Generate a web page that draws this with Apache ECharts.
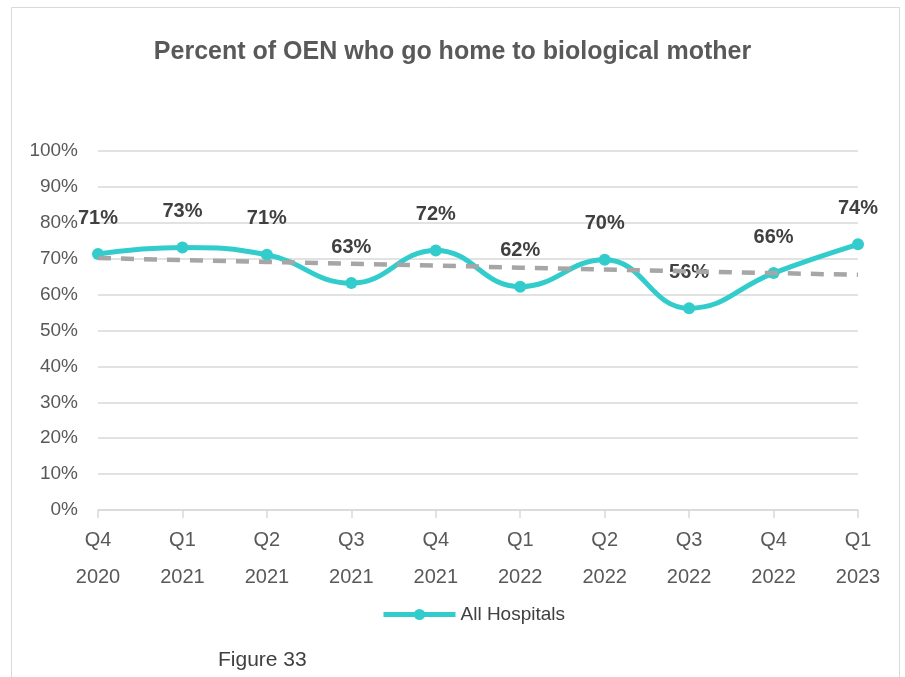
<!DOCTYPE html>
<html>
<head>
<meta charset="utf-8">
<script src="https://cdn.jsdelivr.net/npm/echarts@6/dist/echarts.min.js"></script>
<style>
html, body { margin: 0; padding: 0; background: #fff; }
#main { width: 905px; height: 677px; }
</style>
</head>
<body>
<div id="main"></div>
<script>
// quarters on the x axis
var quarters = ['Q4\n2020', 'Q1\n2021', 'Q2\n2021', 'Q3\n2021', 'Q4\n2021',
    'Q1\n2022', 'Q2\n2022', 'Q3\n2022', 'Q4\n2022', 'Q1\n2023'];
// percent going home to biological mother
var allHospitals = [71.3, 73.1, 71.1, 63.2, 72.3, 62.2, 69.7, 56.2, 66.0, 74.0];
// dashed trend line
var trend = [70.2, 69.6, 69.1, 68.6, 68.1, 67.5, 67.0, 66.5, 66.0, 65.5];

var font = "'Liberation Sans', sans-serif";

var myChart = echarts.init(document.getElementById('main'));

var option = {
    animation: false,
    backgroundColor: '#fff',
    title: {
        text: 'Percent of OEN who go home to biological mother',
        left: 'center',
        top: 35,
        textStyle: { fontFamily: font, fontSize: 25, fontWeight: 'bold', color: '#595959' }
    },
    graphic: [
        {
            type: 'rect',
            shape: { x: 11.5, y: 7.5, width: 888, height: 680 },
            style: { fill: 'none', stroke: '#d9d9d9', lineWidth: 1 }
        },
        {
            type: 'text',
            left: 218,
            top: 650,
            style: { text: 'Figure 33', font: '21px ' + font, fill: '#404040' }
        }
    ],
    legend: {
        bottom: 48,
        left: 376,
        itemWidth: 72,
        itemHeight: 14,
        itemGap: 5,
        data: ['All Hospitals'],
        itemStyle: { color: '#33cccc' },
        lineStyle: { color: '#33cccc', width: 5 },
        textStyle: { fontFamily: font, fontSize: 19, color: '#404040' }
    },
    grid: { left: 98, right: 47, top: 151, bottom: 167 },
    xAxis: {
        type: 'category',
        data: quarters,
        boundaryGap: false,
        axisLine: { lineStyle: { color: '#d9d9d9', width: 1.5 } },
        axisTick: { show: true, length: 8, alignWithLabel: true, lineStyle: { color: '#d9d9d9', width: 1.5 } },
        axisLabel: { fontFamily: font, fontSize: 20, color: '#595959', lineHeight: 37, margin: 12 }
    },
    yAxis: {
        type: 'value',
        min: 0,
        max: 100,
        interval: 10,
        axisLine: { show: false },
        axisTick: { show: false },
        splitLine: { lineStyle: { color: '#d9d9d9', width: 1.5 } },
        axisLabel: {
            fontFamily: font, fontSize: 19, color: '#595959', margin: 20,
            formatter: function (v) { return v + '%'; }
        }
    },
    series: [
        {
            name: 'All Hospitals',
            type: 'line',
            data: allHospitals,
            smooth: 0.45,
            symbol: 'circle',
            symbolSize: 12,
            z: 2,
            itemStyle: { color: '#33cccc' },
            lineStyle: { color: '#33cccc', width: 5 },
            label: {
                show: true,
                position: 'top',
                distance: 20,
                fontFamily: font,
                fontSize: 20,
                fontWeight: 'bold',
                color: '#404040',
                formatter: function (p) { return Math.round(p.value) + '%'; }
            }
        },
        {
            name: 'Trend',
            type: 'line',
            data: trend,
            symbol: 'none',
            z: 3,
            silent: true,
            lineStyle: { color: '#a6a6a6', width: 4.5, type: [13, 10] }
        }
    ]
};

myChart.setOption(option);
</script>
</body>
</html>
